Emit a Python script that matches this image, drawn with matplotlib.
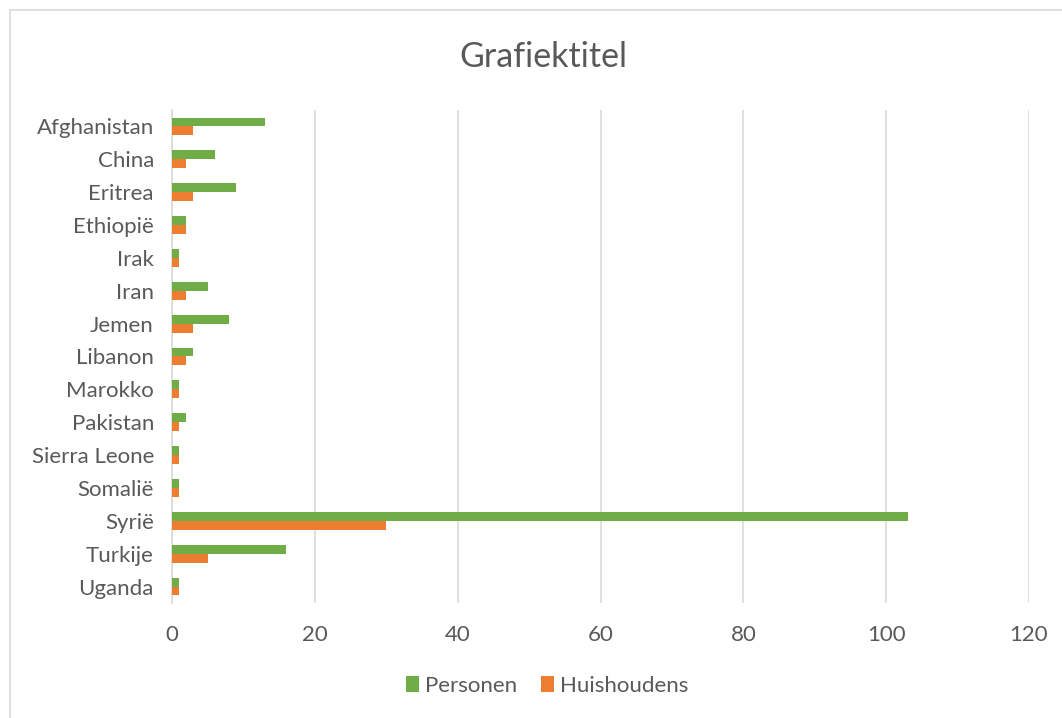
import matplotlib.pyplot as plt
import matplotlib.patches as mpatches
import numpy as np

landen = ['Afghanistan', 'China', 'Eritrea', 'Ethiopië', 'Irak', 'Iran', 'Jemen',
          'Libanon', 'Marokko', 'Pakistan', 'Sierra Leone', 'Somalië', 'Syrië',
          'Turkije', 'Uganda']
personen = [13, 6, 9, 2, 1, 5, 8, 3, 1, 2, 1, 1, 103, 16, 1]
huishoudens = [3, 2, 3, 2, 1, 2, 3, 2, 1, 1, 1, 1, 30, 5, 1]
xticks = [0, 20, 40, 60, 80, 100, 120]

groen = '#70AD47'
oranje = '#ED7D31'
tekst = '#595959'

plt.rcParams['font.family'] = ['Lato', 'DejaVu Sans']

fig = plt.figure(figsize=(10.62, 7.18), dpi=100)
ax = fig.add_axes([172 / 1062, 1 - 603 / 718, (1029 - 172) / 1062, (603 - 110) / 718])

# chart border like Excel
fig.patches.append(mpatches.Rectangle((10 / 1062, -0.01), 1.0, 1 - 10 / 718 + 0.01,
                                      transform=fig.transFigure, fill=False,
                                      edgecolor='#d9d9d9', linewidth=1.2))

y = np.arange(len(landen))
h = 0.27
ax.barh(y - h / 2, personen, height=h, color=groen, label='Personen', zorder=3)
ax.barh(y + h / 2, huishoudens, height=h, color=oranje, label='Huishoudens', zorder=3)

ax.set_ylim(len(landen) - 0.5, -0.5)
ax.set_xlim(0, 120)
ax.set_xticks(xticks)
ax.set_yticks(y)
ax.set_yticklabels(landen)
ax.tick_params(axis='both', length=0, labelsize=16, colors=tekst)
ax.tick_params(axis='x', pad=16)
ax.tick_params(axis='y', pad=13)

for s in ['top', 'right', 'bottom']:
    ax.spines[s].set_visible(False)
ax.spines['left'].set_color('#d9d9d9')
ax.spines['left'].set_linewidth(1.2)
ax.xaxis.grid(True, color='#d9d9d9', linewidth=1.2, zorder=0)
ax.set_axisbelow(True)

fig.text(543 / 1062, 1 - 57 / 718, 'Grafiektitel', ha='center', va='center',
         fontsize=24.5, color=tekst)

fig.legend(loc='center', bbox_to_anchor=(547 / 1062, 1 - 686 / 718), ncol=2, frameon=False,
           fontsize=16, labelcolor=tekst, handlelength=0.6, handleheight=0.75,
           columnspacing=1.1, handletextpad=0.25)

fig.savefig('out.png', dpi=100)
